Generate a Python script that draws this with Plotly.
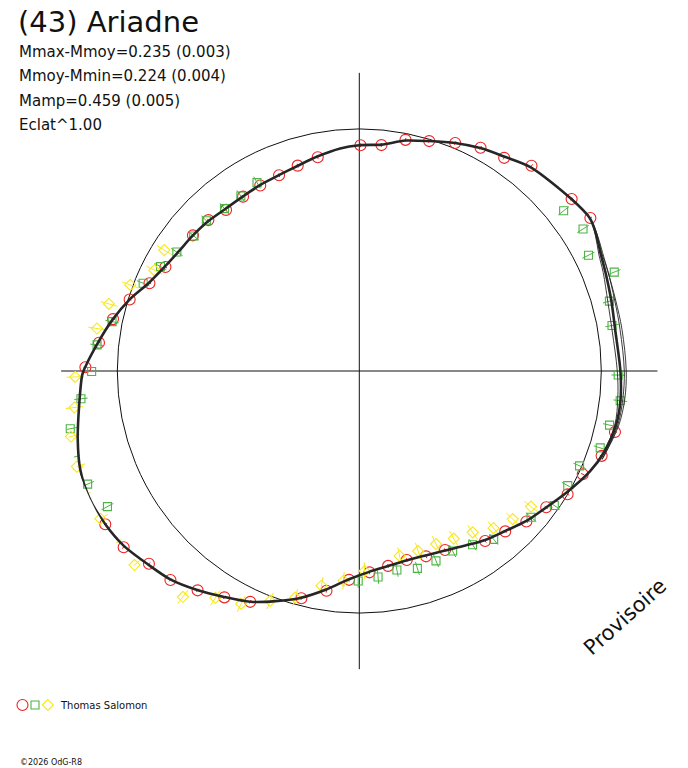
import plotly.graph_objects as go

# ---------------- data (rotational phase in degrees, relative radius) ----------------
red_theta = [89.7, 84.4, 78.7, 73.1, 67.2, 61.5, 55.8, 50.0, 39.0, 33.5,
             -13.4, -19.3, -24.8, -30.6, -36.1, -42.0, -47.7, -53.5, -64.4, -70.2,
             -75.9, -81.6, -87.1, -92.8, -98.5, -104.3, -115.3, -120.8, -126.4, -132.1,
             -137.5, -143.2, -148.9, -154.6, 179.2, 173.8, 168.1, 162.7, 157.3, 151.8,
             140.8, 135.0, 129.6, 123.7, 118.1, 112.3, 106.7, 101.0]
red_r = [0.933, 0.938, 0.974, 0.993, 1.022, 1.050, 1.065, 1.107, 1.129, 1.145,
         1.086, 1.061, 1.017, 1.000, 0.956, 0.929, 0.896, 0.874, 0.820, 0.814,
         0.805, 0.814, 0.833, 0.864, 0.918, 0.969, 1.055, 1.089, 1.126, 1.164,
         1.179, 1.216, 1.226, 1.234, 1.132, 1.082, 1.040, 0.994, 0.940, 0.909,
         0.887, 0.882, 0.864, 0.866, 0.869, 0.874, 0.886, 0.900]
red_err = 0.008

green_theta = [118.5, 124.1, 129.7, 135.5, 140.8, 146.9, 152.3, 157.9, 168.7, 174.3,
               180.1, -174.3, -168.7, -163.2, -157.4, -151.7, -90.3, -84.8, -79.3, -73.6,
               -68.0, -62.6, -56.9, -51.4, -40.4, -34.6, -28.8, -23.3, -17.7, -12.2,
               -6.5, -0.9, 10.2, 15.6, 21.2, 26.8, 32.4, 38.1]
green_r = [0.886, 0.873, 0.872, 0.886, 0.883, 0.900, 0.928, 0.964, 1.042, 1.089,
           1.106, 1.156, 1.218, 1.236, 1.216, 1.182, 0.868, 0.855, 0.837, 0.850,
           0.846, 0.838, 0.857, 0.890, 0.932, 0.979, 0.983, 0.991, 1.045, 1.058,
           1.085, 1.070, 1.061, 1.073, 1.130, 1.061, 1.095, 1.073]
green_err = 0.028

yellow_theta = [148.2, 153.8, 159.4, 165.0, 170.8, -178.8, -172.7, -167.2, -161.3, -155.7,
                -150.3, -144.7, -139.2, -128.0, -122.4, -116.9, -111.2, -105.8, -100.0, -94.3,
                -88.5, -77.7, -71.9, -66.1, -60.6, -54.9, -49.5, -44.0, -38.3]
yellow_r = [0.948, 0.944, 1.011, 1.071, 1.098, 1.174, 1.187, 1.222, 1.232, 1.255,
            1.232, 1.239, 1.227, 1.184, 1.110, 1.079, 1.019, 0.973, 0.901, 0.869,
            0.827, 0.782, 0.783, 0.782, 0.795, 0.815, 0.854, 0.881, 0.904]
yellow_err = 0.036

# fitted model curve
curve_theta = [90, 94.9, 101.1, 106.8, 112.2, 118, 123.9, 129.6, 135.2, 141.1,
               146.5, 151.8, 157.3, 162.8, 168.3, 173.9, 179.2, -179.2, -173.1, -166.2,
               -160.5, -154.6, -148.9, -143.4, -137.6, -132.1, -126.5, -120.9, -115.3, -110,
               -104.6, -98.6, -93, -87.2, -81.6, -76.1, -70.2, -64.5, -58.7, -53.3,
               -47.6, -41.9, -36, -30.2, -23.6, -18.3, -11.9, -6.3, 0, 9.1,
               15.5, 21.9, 25.7, 30.0, 33.5, 39.1, 50.0, 55.8, 61.5, 67.2,
               73.1, 78.7, 84.4, 90]
curve_r = [0.933, 0.923, 0.903, 0.885, 0.875, 0.871, 0.867, 0.869, 0.879, 0.887,
           0.895, 0.912, 0.943, 0.995, 1.042, 1.087, 1.133, 1.145, 1.166, 1.198,
           1.223, 1.233, 1.226, 1.212, 1.184, 1.162, 1.126, 1.088, 1.055, 1.012,
           0.969, 0.913, 0.863, 0.831, 0.815, 0.807, 0.810, 0.822, 0.844, 0.871,
           0.895, 0.928, 0.957, 0.994, 1.039, 1.066, 1.084, 1.086, 1.079, 1.071,
           1.081, 1.096, 1.108, 1.130, 1.143, 1.128, 1.100, 1.070, 1.048, 1.022,
           0.993, 0.971, 0.940, 0.933]

# alternative solutions (diverge only on the right side)
var_theta = [-20, -12, -6, 0, 9, 15.5, 22, 26, 30, 33.5, 40]
var1_r = [1.062, 1.079, 1.074, 1.066, 1.058, 1.066, 1.087, 1.101, 1.126, 1.143, 1.128]
var2_r = [1.068, 1.091, 1.095, 1.095, 1.091, 1.095, 1.107, 1.114, 1.132, 1.143, 1.128]
var3_r = [1.068, 1.095, 1.103, 1.103, 1.099, 1.099, 1.107, 1.118, 1.134, 1.143, 1.128]

title = "(43) Ariadne"
info_lines = ["Mmax-Mmoy=0.235 (0.003)", "Mmoy-Mmin=0.224 (0.004)",
              "Mamp=0.459 (0.005)", "Eclat^1.00"]
observer = "Thomas Salomon"
credit = "\u00a92026 OdG-R8"
stamp = "Provisoire"

# ---------------- layout constants ----------------
W, H = 688, 768
CX, CY = 359.3, 371.0       # pole position in px
SCALE = 242.0               # px per unit of radius
RMAX = 1.232
FONT = "DejaVu Sans"
RED, GREEN, YELLOW, INK = "#ee2222", "#4cb444", "#f8e81a", "#262626"


def fx(x):
    return x / W


def fy(y):
    return 1 - y / H


def err_segments(theta, r, e):
    tt, rr = [], []
    for t, v in zip(theta, r):
        tt += [t, t, None]
        rr += [v - e, v + e, None]
    return tt, rr


fig = go.Figure()

for th, rv, e, sym, size, col in [
    (red_theta, red_r, red_err, "circle-open", 11, RED),
    (green_theta, green_r, green_err, "square-open", 8, GREEN),
    (yellow_theta, yellow_r, yellow_err, "diamond-open", 8.5, YELLOW),
]:
    et, er = err_segments(th, rv, e)
    fig.add_trace(go.Scatterpolar(theta=et, r=er, mode="lines", cliponaxis=False,
                                  line=dict(color=col, width=1), showlegend=False,
                                  hoverinfo="skip"))
    fig.add_trace(go.Scatterpolar(theta=th, r=rv, mode="markers", cliponaxis=False,
                                  marker=dict(symbol=sym, size=size, color=col,
                                              line=dict(width=1.1, color=col)),
                                  showlegend=False))

for vr in (var1_r, var2_r, var3_r):
    fig.add_trace(go.Scatterpolar(theta=var_theta, r=vr, mode="lines", cliponaxis=False,
                                  line=dict(color=INK, width=0.9, shape="spline"),
                                  showlegend=False))

fig.add_trace(go.Scatterpolar(theta=curve_theta, r=curve_r, mode="lines", cliponaxis=False,
                              line=dict(color=INK, width=2.6, shape="spline", smoothing=0.8),
                              showlegend=False))

R_PX = RMAX * SCALE
fig.update_layout(
    width=W, height=H, margin=dict(l=0, r=0, t=0, b=0),
    paper_bgcolor="white", plot_bgcolor="white",
    font=dict(family=FONT, color="#111111"),
    showlegend=False,
    polar=dict(
        domain=dict(x=[fx(CX - R_PX), fx(CX + R_PX)], y=[fy(CY + R_PX), fy(CY - R_PX)]),
        bgcolor="white",
        radialaxis=dict(range=[0, RMAX], showline=False, showticklabels=False, ticks="",
                        tickmode="array", tickvals=[1], showgrid=True,
                        gridcolor="#111111", gridwidth=1),
        angularaxis=dict(showline=False, showticklabels=False, ticks="",
                         tickmode="array", tickvals=[0, 90, 180, 270], showgrid=True,
                         gridcolor="#111111", gridwidth=1.2, rotation=0,
                         direction="counterclockwise"),
    ),
)

ann = [dict(text=title, x=fx(16), y=fy(22.3), font=dict(size=29))]
for i, line in enumerate(info_lines):
    ann.append(dict(text=line, x=fx(17), y=fy(52 + i * 24.3), font=dict(size=15)))
ann.append(dict(text=observer, x=fx(58), y=fy(705), font=dict(size=10)))
ann.append(dict(text=credit, x=fx(18), y=fy(762), font=dict(size=8)))
for a in ann:
    a.update(xref="paper", yref="paper", xanchor="left", yanchor="middle", showarrow=False)
ann.append(dict(text=stamp, x=fx(625), y=fy(617), xref="paper", yref="paper",
                xanchor="center", yanchor="middle", showarrow=False, textangle=-42,
                font=dict(size=21)))
fig.update_layout(annotations=ann)

# legend swatches
shapes = [
    dict(type="circle", x0=fx(17), x1=fx(28), y0=fy(710.5), y1=fy(699.5),
         line=dict(color=RED, width=1.1)),
    dict(type="rect", x0=fx(31), x1=fx(39), y0=fy(709), y1=fy(701),
         line=dict(color=GREEN, width=1.1)),
    dict(type="path",
         path=f"M {fx(42.3)},{fy(705)} L {fx(47.8)},{fy(699.5)} L {fx(53.3)},{fy(705)} "
              f"L {fx(47.8)},{fy(710.5)} Z",
         line=dict(color=YELLOW, width=1.1)),
]
for s in shapes:
    s.update(xref="paper", yref="paper")
fig.update_layout(shapes=shapes)

fig.write_html("out.html", config={"displayModeBar": False},
               post_script="document.body.style.margin='0';document.body.style.overflow='hidden';")
